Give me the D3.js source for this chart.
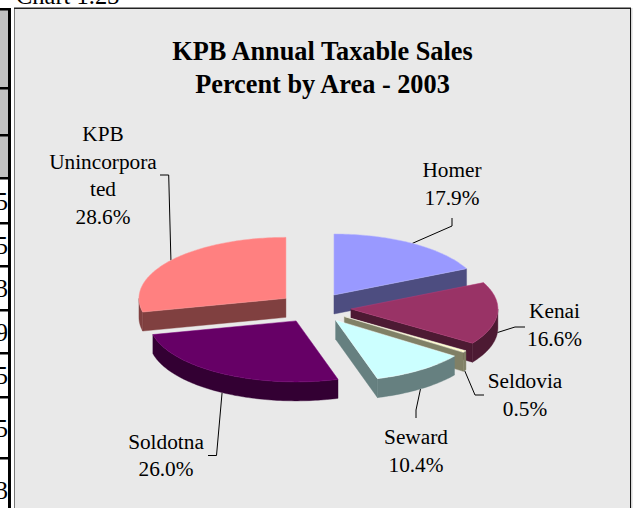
<!DOCTYPE html>
<html><head><meta charset="utf-8">
<script src="https://cdn.jsdelivr.net/npm/d3@7/dist/d3.min.js"></script>
<style>html,body{margin:0;padding:0;background:#fff;overflow:hidden}svg{display:block}text{font-family:"Liberation Serif","Times New Roman",serif;fill:#000}</style>
</head><body><svg id="c" width="642" height="508"></svg>
<script>
const areas = ["Homer","Kenai","Seldovia","Seward","Soldotna","KPB Unincorporated"];
const shares = [17.9,16.6,0.5,10.4,26.0,28.6];
const topColors = ["#9999FF","#993366","#FFFFCC","#CCFFFF","#660066","#FF8080"];
const sideColors = ["#4D4D80","#4D1A33","#808066","#668080","#330033","#804040"];
const labelLines = [["Homer","17.9%"],["Kenai","16.6%"],["Seldovia","0.5%"],["Seward","10.4%"],["Soldotna","26.0%"],["KPB","Unincorpora","ted","28.6%"]];
const labelCentres = [[452,184],[554.5,325],[525,395],[416,451],[166,455.5],[103,175.5]];
const leaderElbows = [[[452,226],[452,218]],[[515,327],[525,327]],[[475,395],[484,395]],[[416,410],[416,418]],[[216.5,455.5],[208,455.5]],[[168.7,175],[160,175]]];
const titleLines = ["KPB Annual Taxable Sales","Percent by Area - 2003"];
const rowLines = [88,135,178,223,266,310,353,397,458];
const rowDigits = ["5","5","3","9","5","5","3"];

const cx=314.5, cy=307.8, rx=147, ry=61, depth=19, explode=36.5;
const sy=ry/rx;
const svg=d3.select("#c");

// clipped table behind the chart
const tableRows=[9,...rowLines,522];
svg.append("rect").attr("x",0).attr("y",9).attr("width",9).attr("height",169).attr("fill","#C0C0C0");
rowLines.forEach(y=>svg.append("rect").attr("x",0).attr("y",y-1).attr("width",9).attr("height",2.5).attr("fill","#000"));
svg.append("rect").attr("x",0).attr("y",8).attr("width",9).attr("height",2.5).attr("fill","#000");
svg.append("rect").attr("x",8).attr("y",8).attr("width",3).attr("height",500).attr("fill","#000");
svg.append("clipPath").attr("id","cl").append("rect").attr("x",0).attr("y",0).attr("width",8).attr("height",508);
const dg=svg.append("g").attr("clip-path","url(#cl)");
rowDigits.forEach((d,i)=>{
  const y0=tableRows[i+3], y1=tableRows[i+4];
  dg.append("text").attr("x",8).attr("y",(y0+y1)/2+9).attr("text-anchor","end").attr("font-size",25).text(d);
});
svg.append("text").attr("x",16).attr("y",3.5).attr("font-size",24.5).text("Chart 1.23");

// chart frame
svg.append("rect").attr("x",15).attr("y",8).attr("width",615).attr("height",500).attr("fill","#E9E9E9");
svg.append("rect").attr("x",14).attr("y",8).attr("width",1).attr("height",500).attr("fill","#777");
svg.append("rect").attr("x",14).attr("y",7.5).attr("width",617).attr("height",1.5).attr("fill","#222");
svg.append("rect").attr("x",630).attr("y",8).attr("width",1).attr("height",500).attr("fill","#111");
svg.append("rect").attr("x",631).attr("y",8).attr("width",1.5).attr("height",500).attr("fill","#d8d8d8");

// title
titleLines.forEach((t,i)=>svg.append("text").attr("x",322.5).attr("y",59.5+i*33).attr("text-anchor","middle").attr("font-weight","bold").attr("font-size",26.3).text(t));

// pie
const arcs=d3.pie().value(d=>d).sort(null)(shares);
const pt=(o,a)=>[o[0]+rx*Math.sin(a), o[1]-ry*Math.cos(a)];
const line=d3.line();
const slices=arcs.map((a,i)=>{
  const mid=(a.startAngle+a.endAngle)/2;
  const o=[cx+explode*Math.sin(mid), cy-explode*sy*Math.cos(mid)];
  return {i,a,mid,o};
}).sort((p,q)=>p.o[1]-q.o[1]);

const arcPts=(o,a0,a1)=>{
  const n=Math.max(2,Math.ceil((a1-a0)/0.02));
  return d3.range(n+1).map(k=>pt(o,a0+(a1-a0)*k/n));
};
const down=p=>[p[0],p[1]+depth];

// leaders first, so the slices sit over their ends
slices.forEach(s=>{
  const rim=pt(s.o,s.mid);
  const onWall=Math.sin(s.mid)>0.5 && Math.cos(s.mid)<0.5 || Math.cos(s.mid)<0;
  const start=onWall?down(rim):rim;
  svg.append("path").attr("d",line([start,...leaderElbows[s.i]])).attr("fill","none").attr("stroke","#000").attr("stroke-width",1);
});

const g=svg.append("g");
slices.forEach(s=>{
  const {a,o,i}=s, side=sideColors[i], sg=g.append("g");
  const face=(ang)=>{
    const r=pt(o,ang);
    sg.append("path").attr("d",line([o,r,down(r),down(o)])+"Z").attr("fill",side).attr("stroke",side).attr("stroke-width",.4);
  };
  // a cut face is drawn only when its outward normal points down the screen
  if(-Math.sin(a.startAngle)>1e-3) face(a.startAngle);
  if(Math.sin(a.endAngle)>1e-3) face(a.endAngle);
  const w0=Math.max(a.startAngle,Math.PI/2), w1=Math.min(a.endAngle,3*Math.PI/2);
  if(w1>w0){
    const p=arcPts(o,w0,w1);
    sg.append("path").attr("d",line([...p,...p.map(down).reverse()])+"Z").attr("fill",side).attr("stroke",side).attr("stroke-width",.4);
  }
  sg.append("path").attr("d",line([o,...arcPts(o,a.startAngle,a.endAngle)])+"Z").attr("fill",topColors[i]).attr("stroke",d3.color(topColors[i]).brighter(.5)).attr("stroke-width",.5);
});

// labels
labelLines.forEach((ls,i)=>{
  const [x,yc]=labelCentres[i];
  const lh=27.6;
  ls.forEach((t,k)=>svg.append("text").attr("x",x).attr("y",yc-(ls.length-1)*lh/2+k*lh+7).attr("text-anchor","middle").attr("font-size",21.3).text(t));
});
</script></body></html>
